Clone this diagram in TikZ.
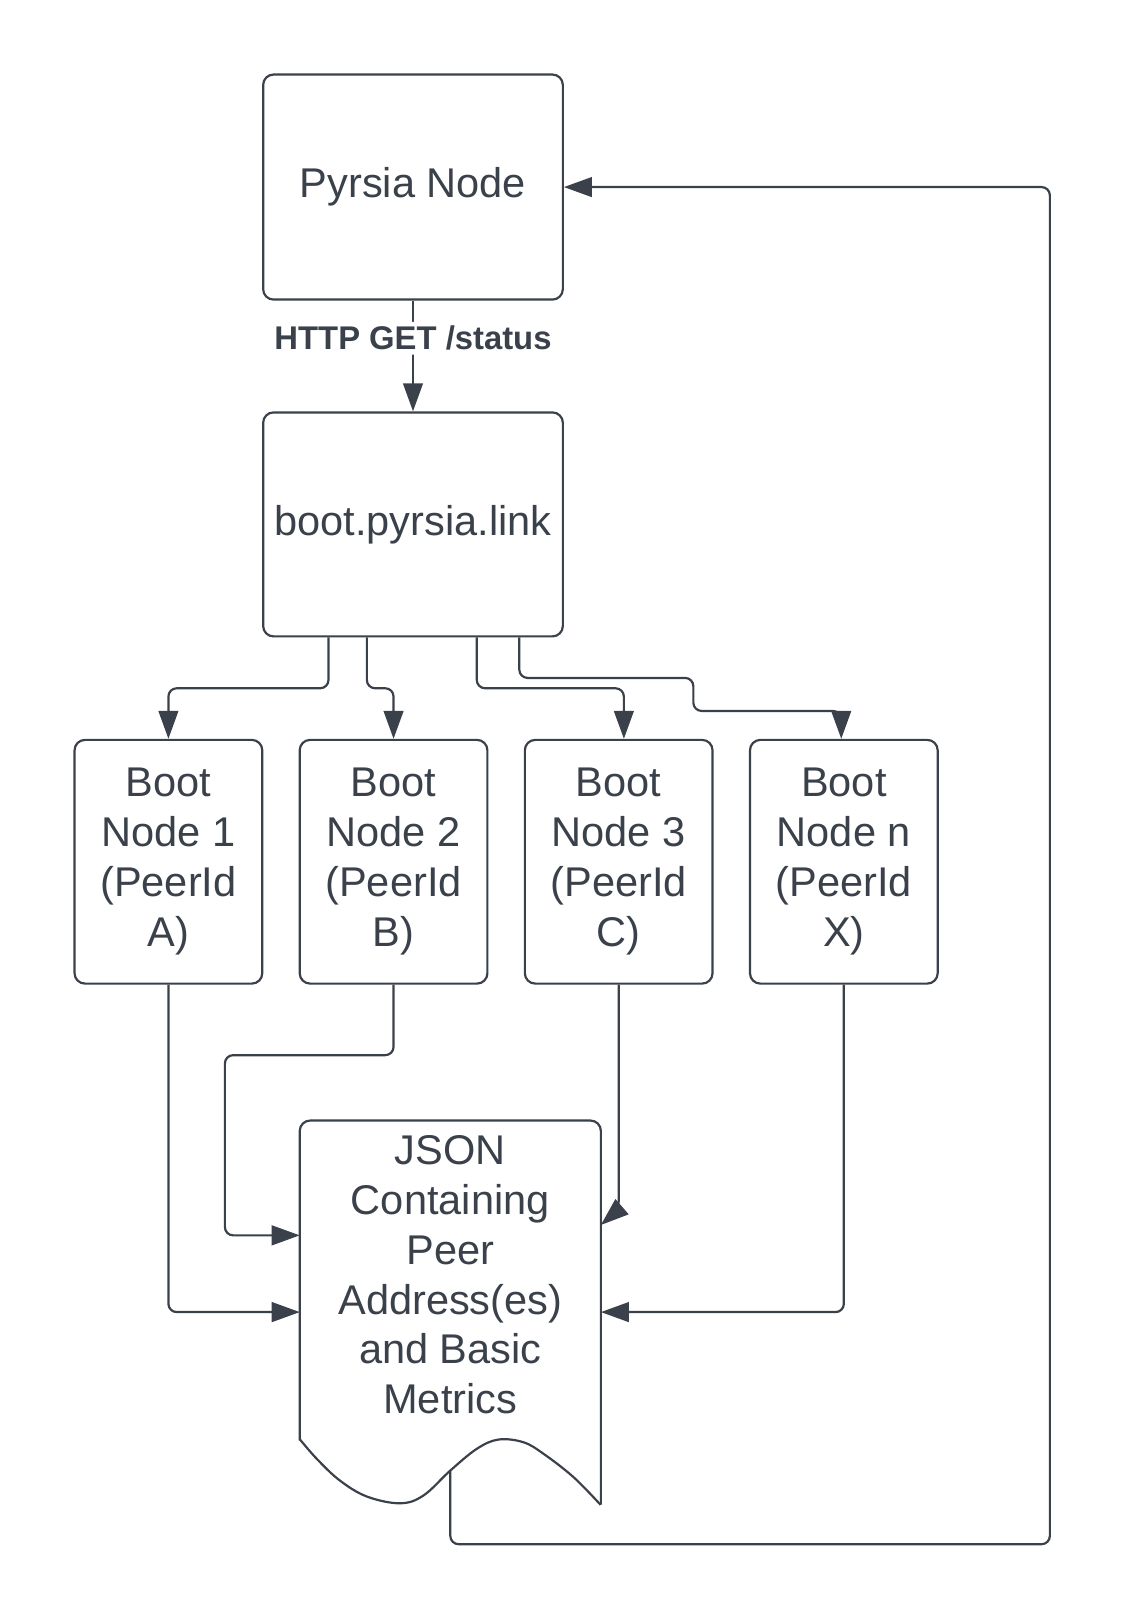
\documentclass[tikz,border=0pt]{standalone}
\usepackage{fontspec}
\setmainfont{Liberation Sans}
\usetikzlibrary{positioning,arrows.meta}
\definecolor{ink}{HTML}{3A414A}

\begin{document}
\begin{tikzpicture}[x=0.01cm, y=-0.01cm,
  every node/.style={font=\fontsize{11.4}{13.7}\selectfont, text=ink},
  box/.style={draw=ink, line width=0.6pt, rounded corners=0.1cm, align=center, inner sep=0pt},
  bootbox/.style={box, minimum width=1.81cm, minimum height=2.35cm},
  link/.style={draw=ink, line width=0.6pt, rounded corners=0.08cm},
  tip/.style={-{Triangle[length=0.27cm, width=0.19cm]}},
  node distance=0.34cm]
\useasboundingbox (0,0) rectangle (1088,1567);

\node[box, minimum width=2.89cm, minimum height=2.17cm] (pyrsia) at (398.5,180.5) {Pyrsia Node};
\node[box, minimum width=2.89cm, minimum height=2.16cm] (boot) at (398.5,506) {boot.pyrsia.link};
\node[bootbox] (b1) at (162.5,831.5) {Boot\\Node 1\\(PeerId\\A)};
\node[bootbox, right=of b1] (b2) {Boot\\Node 2\\(PeerId\\B)};
\node[bootbox, right=of b2] (b3) {Boot\\Node 3\\(PeerId\\C)};
\node[bootbox, right=of b3] (b4) {Boot\\Node n\\(PeerId\\X)};
\node[align=center, inner sep=0pt, minimum width=2.89cm, minimum height=2.96cm] (json) at (434.5,1230)
  {JSON\\Containing\\Peer\\Address(es)\\and Basic\\Metrics};
\draw[link, rounded corners=0.1cm] ([yshift=-0.11cm]json.south west) -- (json.north west) -- (json.north east) -- ([yshift=-0.73cm]json.south east);
\draw[draw=ink, line width=0.6pt] plot[smooth, tension=0.6] coordinates {(289.5,1389) (306,1408) (328,1428.6) (354,1444)
  (386,1450.5) (408.6,1443) (434.4,1419) (460,1398) (481,1389) (505,1391.6) (524.5,1402.8) (553.4,1425.3) (579.5,1452)};
\coordinate (docfoot) at (434.5,1419);

\draw[link, tip] (pyrsia) -- node[pos=0.34, fill=white, inner sep=0.04cm, font=\bfseries\fontsize{9}{11}\selectfont] {HTTP GET /status} (boot);

\draw[link, tip] ([xshift=-0.815cm]boot.south) -- ++(0,49) -| (b1.north);
\draw[link, tip] ([xshift=-0.445cm]boot.south) -- ++(0,49) -| (b2.north);
\draw[link, tip] ([xshift=0.615cm]boot.south) -- ++(0,49) -| ([xshift=0.05cm]b3.north);
\draw[link, tip] ([xshift=1.025cm]boot.south) -- ++(0,39) -| (669,686) -| ([xshift=-0.025cm]b4.north);

\draw[link, tip] (b1.south) |- ([yshift=-0.36cm]json.west);
\draw[link, tip] (b2.south) -- ++(0,68) -| (217,1192) -- ([yshift=0.38cm]json.west);
\draw[link, tip] (b3.south) -- ++(0,217) -- ([yshift=0.48cm]json.east);
\draw[link, tip] (b4.south) |- ([yshift=-0.36cm]json.east);

\draw[link, tip] (docfoot) |- (1013,1490) |- (pyrsia.east);
\end{tikzpicture}
\end{document}
